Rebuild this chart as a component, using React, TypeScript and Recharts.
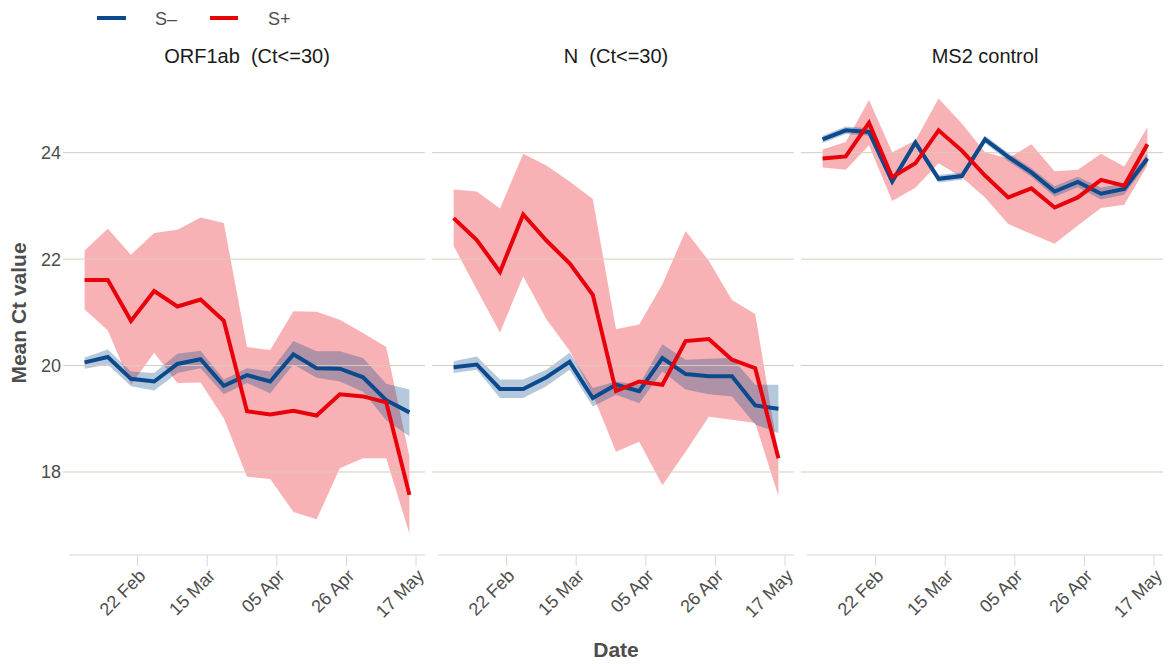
import { ComposedChart, Area, Line, XAxis, YAxis, ReferenceLine } from 'recharts'

const FONT = '"Liberation Sans", Arial, Helvetica, sans-serif'
const BLUE = '#0b4a8c'
const RED = '#e8000b'
const GRID = '#d9cbbd'
const AXIS = '#dcd8d4'

// weekly sample dates (x positions are days from 22 Feb)
const dates = [
  '2021-02-06', '2021-02-13', '2021-02-20', '2021-02-27', '2021-03-06',
  '2021-03-13', '2021-03-20', '2021-03-27', '2021-04-03', '2021-04-10',
  '2021-04-17', '2021-04-24', '2021-05-01', '2021-05-08', '2021-05-15',
]
const tickDays = [0, 21, 42, 63, 84]
const tickLabels = ['22 Feb', '15 Mar', '05 Apr', '26 Apr', '17 May']
const yTicks = [18, 20, 22, 24]

// ORF1ab (Ct<=30)
const orfNeg = [20.06, 20.16, 19.75, 19.70, 20.03, 20.12, 19.62, 19.82, 19.70, 20.21, 19.95, 19.94, 19.78, 19.35, 19.12]
const orfNegLo = [19.94, 20.02, 19.61, 19.53, 19.86, 19.95, 19.46, 19.67, 19.48, 20.02, 19.77, 19.70, 19.51, 18.97, 18.67]
const orfNegHi = [20.15, 20.30, 19.89, 19.86, 20.22, 20.28, 19.74, 19.95, 19.89, 20.46, 20.27, 20.27, 20.14, 19.66, 19.55]
const orfPos = [21.61, 21.61, 20.84, 21.40, 21.11, 21.24, 20.84, 19.14, 19.08, 19.15, 19.06, 19.46, 19.42, 19.31, 17.57]
const orfPosLo = [21.06, 20.66, 19.64, 20.24, 19.67, 19.68, 19.01, 17.91, 17.87, 17.25, 17.11, 18.07, 18.26, 18.26, 16.84]
const orfPosHi = [22.16, 22.57, 22.08, 22.49, 22.55, 22.78, 22.68, 20.35, 20.29, 21.02, 21.01, 20.86, 20.61, 20.35, 18.29]

// N (Ct<=30)
const nNeg = [19.97, 20.02, 19.56, 19.56, 19.78, 20.07, 19.39, 19.64, 19.52, 20.14, 19.84, 19.80, 19.80, 19.25, 19.19]
const nNegLo = [19.86, 19.92, 19.39, 19.39, 19.61, 19.92, 19.23, 19.45, 19.29, 19.89, 19.55, 19.46, 19.42, 18.89, 18.73]
const nNegHi = [20.08, 20.17, 19.74, 19.74, 19.92, 20.24, 19.58, 19.70, 19.64, 20.40, 20.11, 20.13, 20.14, 19.64, 19.64]
const nPos = [22.77, 22.36, 21.76, 22.84, 22.35, 21.92, 21.33, 19.52, 19.70, 19.64, 20.46, 20.50, 20.11, 19.95, 18.26]
const nPosLo = [22.25, 21.43, 20.62, 21.68, 20.87, 20.28, 19.45, 18.38, 18.57, 17.75, 18.38, 19.04, 18.98, 18.92, 17.55]
const nPosHi = [23.31, 23.27, 22.95, 23.98, 23.76, 23.46, 23.13, 20.68, 20.77, 21.53, 22.53, 21.97, 21.23, 20.97, 18.35]

// MS2 control
const msNeg = [24.25, 24.42, 24.39, 23.46, 24.19, 23.51, 23.56, 24.25, 23.92, 23.63, 23.27, 23.45, 23.23, 23.32, 23.89]
const msNegLo = [24.18, 24.35, 24.32, 23.39, 24.12, 23.44, 23.49, 24.18, 23.84, 23.55, 23.17, 23.35, 23.12, 23.21, 23.80]
const msNegHi = [24.32, 24.49, 24.46, 23.53, 24.26, 23.58, 23.63, 24.32, 24.00, 23.71, 23.37, 23.55, 23.34, 23.43, 23.98]
const msPos = [23.89, 23.93, 24.56, 23.54, 23.80, 24.42, 24.04, 23.57, 23.16, 23.33, 22.97, 23.16, 23.49, 23.38, 24.16]
const msPosLo = [23.72, 23.68, 24.14, 23.09, 23.34, 23.80, 23.54, 23.16, 22.66, 22.47, 22.29, 22.63, 22.96, 23.02, 23.76]
const msPosHi = [24.06, 24.20, 24.99, 24.01, 24.23, 25.02, 24.55, 24.01, 23.89, 24.16, 23.65, 23.68, 23.98, 23.74, 24.48]

const origin = Date.parse('2021-02-22')

function makeRows(neg: number[], negLo: number[], negHi: number[], pos: number[], posLo: number[], posHi: number[]) {
  return dates.map((d, i) => ({
    day: Math.round((Date.parse(d) - origin) / 86400000),
    neg: neg[i],
    negBand: [negLo[i], negHi[i]],
    pos: pos[i],
    posBand: [posLo[i], posHi[i]],
  }))
}

const panels = [
  { title: 'ORF1ab  (Ct<=30)', rows: makeRows(orfNeg, orfNegLo, orfNegHi, orfPos, orfPosLo, orfPosHi), left: 0, width: 432, ml: 9, mr: 7, showY: true },
  { title: 'N  (Ct<=30)', rows: makeRows(nNeg, nNegLo, nNegHi, nPos, nPosLo, nPosHi), left: 426, width: 370, ml: 6, mr: 2, showY: false },
  { title: 'MS2 control', rows: makeRows(msNeg, msNegLo, msNegHi, msPos, msPosLo, msPosHi), left: 796, width: 371, ml: 5, mr: 4, showY: false },
]

function DateTick(props: any) {
  const { x, y, payload } = props
  const label = tickLabels[tickDays.indexOf(payload.value)]
  const tx = x + 9
  const ty = y + 9
  return (
    <text x={tx} y={ty} transform={`rotate(-45, ${tx}, ${ty})`} textAnchor="end" fill="#4d4d4d" fontSize={18} fontFamily={FONT}>
      {label}
    </text>
  )
}

function Panel({ rows, left, width, ml, mr, showY }: any) {
  return (
    <div style={{ position: 'absolute', left, top: 0 }}>
      <ComposedChart width={width} height={664} data={rows} margin={{ top: 75, right: mr, left: ml, bottom: 0 }}>
        <XAxis
          dataKey="day"
          type="number"
          domain={[-20.7, 86.7]}
          ticks={tickDays}
          interval={0}
          allowDataOverflow
          height={109}
          tickSize={11}
          axisLine={{ stroke: AXIS }}
          tickLine={{ stroke: AXIS }}
          tick={<DateTick />}
        />
        <YAxis
          type="number"
          domain={[16.44, 25.46]}
          ticks={yTicks}
          allowDataOverflow
          width={showY ? 60 : 6}
          axisLine={false}
          tickLine={{ stroke: GRID }}
          tickSize={6}
          tick={showY ? { fill: '#4d4d4d', fontSize: 18, fontFamily: FONT } : () => <g />}
        />
        {yTicks.map((t) => (
          <ReferenceLine key={t} y={t} stroke={GRID} strokeWidth={1} />
        ))}
        <Area type="linear" dataKey="posBand" stroke="none" fill={RED} fillOpacity={0.3} isAnimationActive={false} activeDot={false} />
        <Area type="linear" dataKey="negBand" stroke="none" fill={BLUE} fillOpacity={0.3} isAnimationActive={false} activeDot={false} />
        <Line type="linear" dataKey="neg" stroke={BLUE} strokeWidth={4} dot={false} isAnimationActive={false} />
        <Line type="linear" dataKey="pos" stroke={RED} strokeWidth={4} dot={false} isAnimationActive={false} />
      </ComposedChart>
    </div>
  )
}

export default function App() {
  return (
    <div style={{ position: 'absolute', left: 0, top: 0, width: 1171, height: 664, background: '#fff', fontFamily: FONT }}>
      {panels.map((p) => (
        <Panel key={p.title} {...p} />
      ))}
      <svg width={1171} height={664} style={{ position: 'absolute', left: 0, top: 0, pointerEvents: 'none' }}>
        <line x1={97} x2={126} y1={18} y2={18} stroke={BLUE} strokeWidth={4} />
        <text x={155} y={25} fontSize={18} fill="#4d4d4d" fontFamily={FONT}>S–</text>
        <line x1={210} x2={238} y1={18} y2={18} stroke={RED} strokeWidth={4} />
        <text x={268} y={25} fontSize={18} fill="#4d4d4d" fontFamily={FONT}>S+</text>
        {panels.map((p, i) => (
          <text key={p.title} x={[247, 616, 985][i]} y={63} textAnchor="middle" fontSize={20} fill="#1a1a1a" fontFamily={FONT} style={{ whiteSpace: 'pre' }}>
            {p.title}
          </text>
        ))}
        <text x={26} y={313} transform="rotate(-90, 26, 313)" textAnchor="middle" fontSize={21} fontWeight="bold" fill="#4d4d4d" fontFamily={FONT}>
          Mean Ct value
        </text>
        <text x={616} y={657} textAnchor="middle" fontSize={21} fontWeight="bold" fill="#4d4d4d" fontFamily={FONT}>
          Date
        </text>
      </svg>
    </div>
  )
}
